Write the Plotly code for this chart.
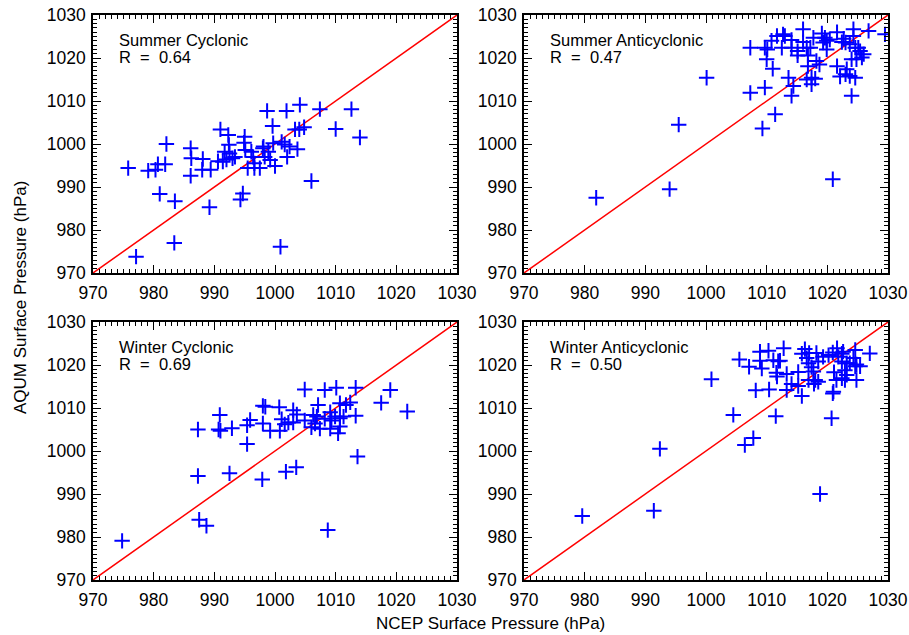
import plotly.graph_objects as go

# Summer Cyclonic
sc_ncep = [975.8, 977.1, 979.1, 980.3, 980.7, 981.9, 982.1, 981.0, 983.5, 983.4, 986.1, 986.2, 986.1,
           988.1, 988.0, 989.4, 989.2, 991.0, 992.3, 990.6, 992.4, 991.7, 992.5, 991.4, 992.0, 993.4,
           993.0, 995.0, 994.9, 995.1, 994.7, 994.3, 996.1, 996.4, 995.5, 996.6, 996.6, 997.5, 998.7,
           998.0, 998.3, 1001.9, 1004.1, 1007.4, 1012.6, 999.6, 1003.3, 1004.0, 1004.8, 1010.0, 1014.0,
           998.1, 998.9, 999.7, 1001.1, 1001.6, 1002.4, 1003.7, 1002.0, 999.2, 1000.0, 1006.0, 1000.9]
sc_aqum = [994.4, 973.8, 993.8, 994.0, 995.3, 995.3, 1000.0, 988.4, 986.7, 977.0, 999.0, 996.7, 992.6,
           996.5, 994.0, 994.0, 985.3, 1003.4, 1002.1, 996.0, 999.8, 998.2, 997.8, 995.9, 996.4, 997.0,
           996.7, 1001.7, 1000.3, 998.6, 988.5, 987.1, 998.2, 997.0, 994.4, 995.5, 994.4, 994.4, 1007.7,
           999.0, 997.0, 1007.7, 1009.1, 1008.1, 1008.1, 1004.2, 1003.4, 1003.4, 1003.9, 1003.5, 1001.5,
           999.4, 998.2, 1000.2, 1000.5, 999.9, 999.4, 998.8, 997.0, 996.3, 994.9, 991.4, 976.1]

# Summer Anticyclonic
sa_ncep = [981.9, 994.0, 995.5, 1000.1, 1007.3, 1007.3, 1009.7, 1010.1, 1010.0, 1011.0, 1009.7, 1011.4,
           1009.3, 1010.8, 1011.7, 1012.7, 1012.5, 1013.0, 1014.1, 1014.1, 1015.1, 1015.1, 1013.6, 1014.4,
           1014.1, 1016.0, 1016.0, 1016.6, 1016.8, 1017.7, 1017.2, 1016.8, 1018.2, 1018.7, 1016.6, 1017.4,
           1018.0, 1017.4, 1019.1, 1019.6, 1019.9, 1019.3, 1020.4, 1019.9, 1021.6, 1022.7, 1022.4, 1023.0,
           1021.6, 1023.2, 1023.0, 1022.1, 1023.7, 1024.6, 1024.0, 1024.3, 1024.3, 1023.7, 1024.6, 1025.1,
           1025.4, 1026.0, 1025.7, 1024.0, 1024.8, 1026.8, 1029.5, 1020.9]
sa_aqum = [987.5, 989.5, 1004.5, 1015.4, 1022.4, 1011.9, 1022.4, 1022.0, 1019.7, 1017.5, 1013.1, 1006.9,
           1003.6, 1024.0, 1025.1, 1025.5, 1022.4, 1025.1, 1024.2, 1022.4, 1021.6, 1020.6, 1015.4, 1013.5,
           1011.2, 1026.7, 1023.7, 1022.4, 1020.6, 1024.7, 1022.4, 1018.1, 1019.3, 1018.5, 1015.0, 1015.4,
           1015.2, 1013.9, 1025.7, 1024.7, 1024.0, 1023.6, 1024.3, 1022.0, 1026.0, 1024.5, 1023.7, 1023.6,
           1018.1, 1017.4, 1016.2, 1015.7, 1015.8, 1015.4, 1011.2, 1026.7, 1025.1, 1023.2, 1022.4, 1022.4,
           1021.6, 1020.9, 1020.1, 1019.7, 1019.7, 1026.3, 1025.5, 991.8]

# Winter Cyclonic
wc_ncep = [974.8, 987.3, 987.3, 987.5, 988.7, 990.9, 990.7, 991.0, 992.9, 992.5, 995.4, 995.9, 995.4,
           998.0, 998.0, 997.9, 998.4, 999.2, 1000.7, 1000.8, 1001.1, 1001.6, 1002.2, 1003.0, 1003.6,
           1003.0, 1004.9, 1004.9, 1008.2, 1010.1, 1013.3, 1019.0, 1007.1, 1006.3, 1006.9, 1006.6, 1006.0,
           1007.4, 1008.2, 1009.1, 1009.3, 1009.9, 1009.1, 1010.7, 1011.7, 1012.4, 1010.7, 1011.3, 1010.7,
           1010.4, 1013.3, 1017.5, 1021.8, 1013.6, 1001.8, 1003.5, 1008.7]
wc_aqum = [979.1, 1005.0, 994.2, 984.0, 982.6, 1008.4, 1005.0, 1004.7, 1005.3, 994.8, 1006.0, 1007.2,
           1001.6, 1010.5, 1006.4, 993.4, 1010.3, 1004.7, 1010.2, 1004.7, 1007.4, 1006.2, 1006.6, 1009.5,
           1008.5, 1006.6, 1007.1, 1014.3, 1014.2, 1014.7, 1014.7, 1014.2, 1010.7, 1008.4, 1008.0, 1006.4,
           1005.5, 1005.2, 1007.5, 1009.0, 1007.1, 1008.0, 1005.2, 1011.1, 1010.7, 1011.3, 1007.6, 1008.0,
           1005.7, 1004.1, 1008.2, 1011.2, 1009.2, 998.7, 995.2, 996.2, 981.6]

# Winter Anticyclonic
wa_ncep = [979.6, 991.4, 992.4, 1000.9, 1004.5, 1006.4, 1007.8, 1005.5, 1007.1, 1008.2, 1008.9, 1008.9,
           1009.2, 1010.3, 1010.4, 1011.1, 1011.5, 1011.9, 1012.2, 1011.6, 1011.7, 1012.8, 1013.3, 1014.1,
           1013.3, 1015.2, 1015.2, 1015.8, 1015.8, 1016.3, 1016.6, 1017.0, 1016.9, 1017.4, 1017.7, 1016.9,
           1018.0, 1018.5, 1017.8, 1018.2, 1018.5, 1019.3, 1020.2, 1020.9, 1021.6, 1021.8, 1022.4, 1022.6,
           1021.1, 1021.5, 1021.0, 1020.9, 1020.7, 1022.4, 1023.2, 1022.9, 1023.7, 1023.2, 1024.3, 1024.6,
           1024.8, 1025.4, 1024.6, 1024.8, 1022.9, 1027.0, 1022.4, 1018.8]
wa_aqum = [984.9, 986.1, 1000.5, 1016.7, 1008.4, 1001.4, 1003.0, 1021.3, 1019.6, 1014.1, 1023.1, 1021.0,
           1019.2, 1023.3, 1014.3, 1021.1, 1008.1, 1020.9, 1021.0, 1018.2, 1017.3, 1023.9, 1017.9, 1015.6,
           1014.2, 1018.4, 1015.1, 1012.8, 1022.6, 1023.7, 1021.6, 1022.8, 1020.4, 1019.5, 1018.5, 1016.5,
           1016.5, 1016.1, 1015.6, 1022.8, 1020.8, 1021.9, 1022.3, 1022.9, 1023.9, 1021.9, 1022.6, 1023.1,
           1018.3, 1016.5, 1013.8, 1013.4, 1007.6, 1016.9, 1020.4, 1018.8, 1020.4, 1017.7, 1021.6, 1019.7,
           1020.1, 1019.7, 1023.5, 1016.5, 1016.5, 1022.7, 1020.8, 990.0]

panel_titles = ["Summer Cyclonic", "Summer Anticyclonic", "Winter Cyclonic", "Winter Anticyclonic"]
panel_r = ["R  =  0.64", "R  =  0.47", "R  =  0.69", "R  =  0.50"]
axis_min, axis_max = 970, 1030

W, H = 909, 635
xdoms = [[93 / W, 457 / W], [524 / W, 888 / W]]
ydoms = [[(H - 273) / H, (H - 15) / H], [(H - 580) / H, (H - 322) / H]]

FONT = "Liberation Sans"
fig = go.Figure()
datasets = [(sc_ncep, sc_aqum), (sa_ncep, sa_aqum), (wc_ncep, wc_aqum), (wa_ncep, wa_aqum)]
layout = {}
annotations = []
for i, (xs, ys) in enumerate(datasets):
    n = i + 1
    xa = "x" if n == 1 else f"x{n}"
    ya = "y" if n == 1 else f"y{n}"
    fig.add_trace(go.Scatter(x=[axis_min, axis_max], y=[axis_min, axis_max], mode="lines",
                             line=dict(color="red", width=1.5), xaxis=xa, yaxis=ya,
                             showlegend=False, hoverinfo="skip"))
    fig.add_trace(go.Scatter(x=xs, y=ys, mode="markers", xaxis=xa, yaxis=ya, showlegend=False,
                             marker=dict(symbol="cross-thin", size=11,
                                         line=dict(color="#0000ff", width=2))))
    col = i % 2
    row = i // 2
    axcommon = dict(range=[axis_min, axis_max], showgrid=False, zeroline=False, automargin=False,
                    showline=True, linecolor="black", linewidth=1.5, mirror="ticks",
                    ticks="inside", ticklen=8, tickwidth=1.2, tickcolor="black",
                    tickmode="linear", tick0=970, dtick=10,
                    tickfont=dict(family=FONT, size=17.5, color="black"),
                    minor=dict(ticks="inside", ticklen=4, dtick=1, tick0=970,
                               tickwidth=1, tickcolor="black"))
    xkey = "xaxis" if n == 1 else f"xaxis{n}"
    ykey = "yaxis" if n == 1 else f"yaxis{n}"
    layout[xkey] = dict(axcommon, domain=xdoms[col], anchor=ya, ticklabelstandoff=3)
    layout[ykey] = dict(axcommon, domain=ydoms[row], anchor=xa, ticklabelstandoff=2)
    annotations.append(dict(x=974.0, y=1024.2, xref=xa, yref=ya, text=panel_titles[i],
                            showarrow=False, xanchor="left", yanchor="middle",
                            font=dict(family=FONT, size=16.5, color="black")))
    annotations.append(dict(x=974.0, y=1020.2, xref=xa, yref=ya, text=panel_r[i],
                            showarrow=False, xanchor="left", yanchor="middle",
                            font=dict(family=FONT, size=16.5, color="black")))

annotations.append(dict(x=20 / W, y=1 - 298 / H, xref="paper", yref="paper",
                        text="AQUM Surface Pressure (hPa)", textangle=-90, showarrow=False,
                        xanchor="center", yanchor="middle",
                        font=dict(family=FONT, size=17, color="black")))
annotations.append(dict(x=490 / W, y=1 - 623 / H, xref="paper", yref="paper",
                        text="NCEP Surface Pressure (hPa)", showarrow=False,
                        xanchor="center", yanchor="middle",
                        font=dict(family=FONT, size=17, color="black")))

fig.update_layout(width=W, height=H, margin=dict(l=0, r=0, t=0, b=0, autoexpand=False),
                  plot_bgcolor="white", paper_bgcolor="white",
                  annotations=annotations, **layout)
fig.write_html("out.html", config={"displayModeBar": False},
               post_script="document.body.style.margin='0';document.body.style.padding='0';"
                           "document.body.style.overflow='hidden';")
